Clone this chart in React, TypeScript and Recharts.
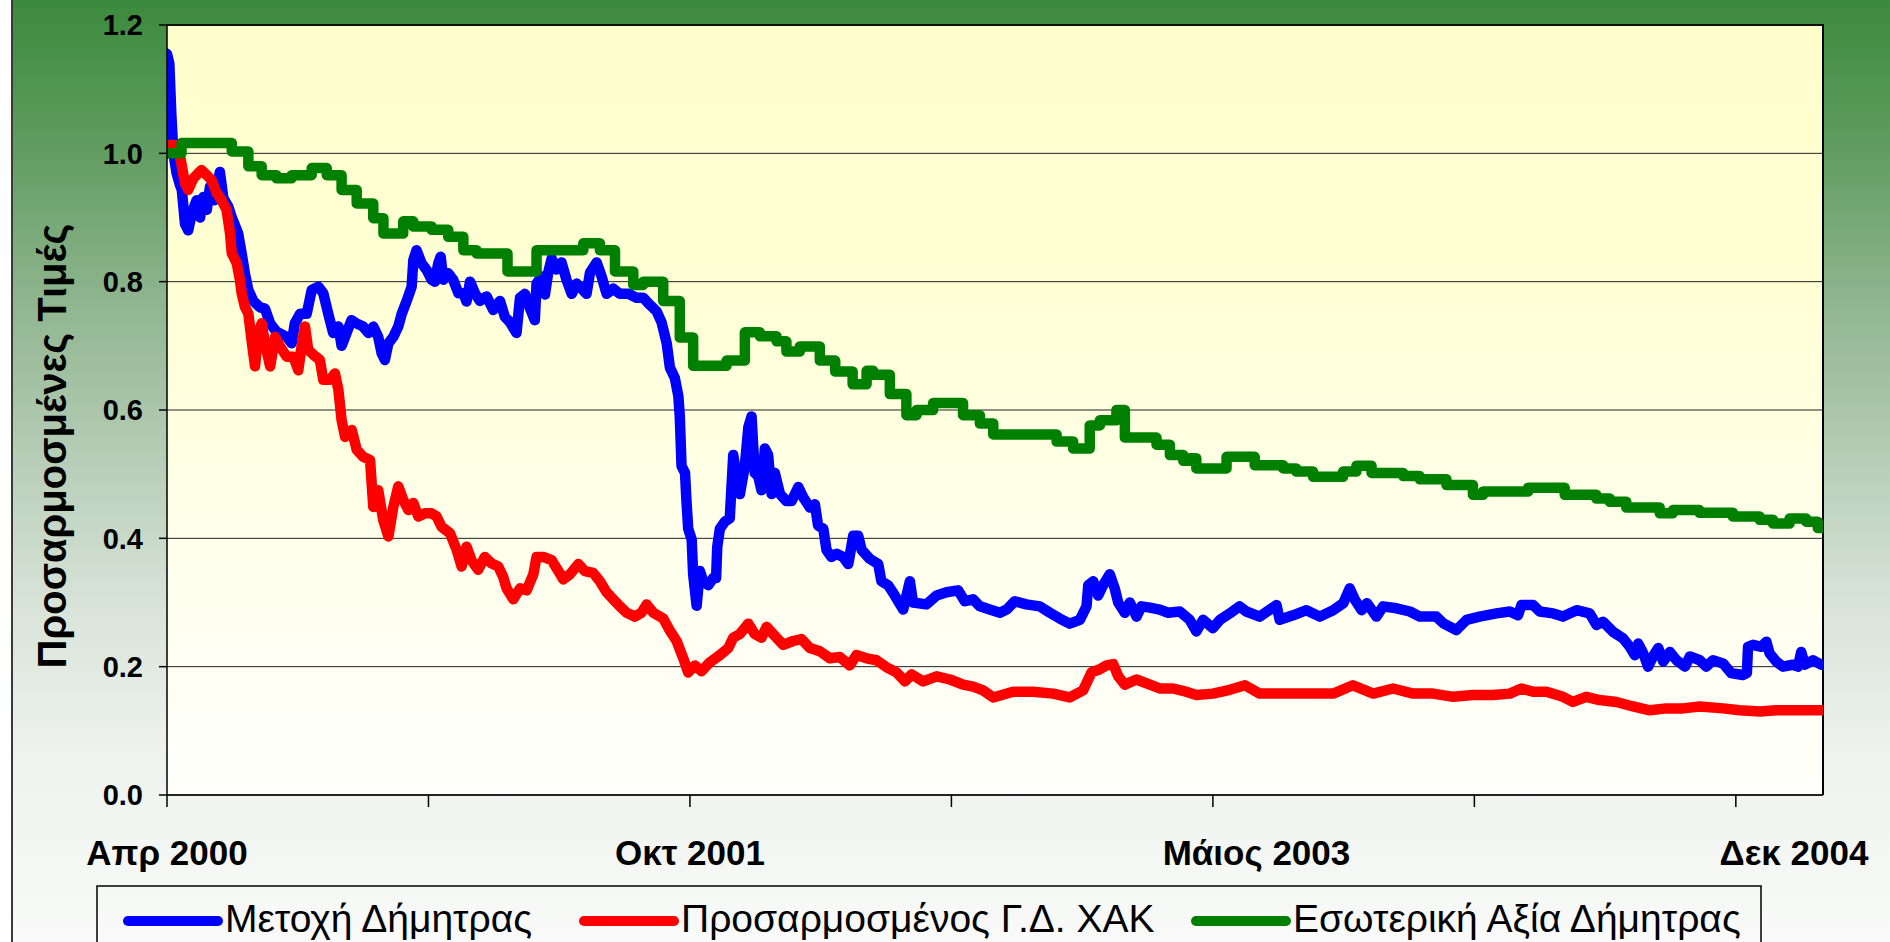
import React from 'react';
import { LineChart, Line, XAxis, YAxis, CartesianGrid } from 'recharts';

// x = months since April 2000, y = adjusted value
const stockPts: [number, number][] = [
  [0,1.155],[0.08,1.14],[0.15,1.06],[0.22,1.0],[0.33,0.969],[0.45,0.95],[0.51,0.943],[0.62,0.89],[0.73,0.88],[0.85,0.906],[1.02,0.927],[1.14,0.9],[1.25,0.932],[1.37,0.912],[1.48,0.948],[1.65,0.927],[1.82,0.971],[1.94,0.93],[2.11,0.917],[2.23,0.9],[2.45,0.875],[2.57,0.844],[2.68,0.813],[2.8,0.787],[2.97,0.77],[3.2,0.76],[3.37,0.758],[3.55,0.735],[3.77,0.722],[4.12,0.714],[4.29,0.704],[4.4,0.735],[4.58,0.75],[4.81,0.75],[4.98,0.787],[5.21,0.792],[5.38,0.782],[5.55,0.75],[5.72,0.72],[5.9,0.73],[6.01,0.7],[6.18,0.72],[6.35,0.74],[6.52,0.735],[6.75,0.73],[6.93,0.72],[7.1,0.73],[7.27,0.714],[7.39,0.688],[7.5,0.678],[7.62,0.704],[7.79,0.714],[7.96,0.73],[8.08,0.75],[8.25,0.77],[8.42,0.792],[8.48,0.834],[8.59,0.849],[8.76,0.829],[8.94,0.818],[9.11,0.803],[9.22,0.8],[9.34,0.829],[9.42,0.839],[9.51,0.803],[9.68,0.813],[9.85,0.803],[10.03,0.782],[10.2,0.782],[10.31,0.769],[10.43,0.8],[10.6,0.782],[10.77,0.77],[11.0,0.777],[11.23,0.756],[11.46,0.77],[11.63,0.745],[11.8,0.737],[12.03,0.72],[12.15,0.775],[12.32,0.781],[12.49,0.759],[12.66,0.74],[12.72,0.797],[12.89,0.808],[13.01,0.78],[13.12,0.814],[13.24,0.836],[13.41,0.819],[13.58,0.83],[13.75,0.803],[13.93,0.781],[14.1,0.797],[14.27,0.789],[14.44,0.781],[14.56,0.814],[14.79,0.83],[14.96,0.808],[15.13,0.781],[15.36,0.789],[15.59,0.781],[15.88,0.781],[16.16,0.775],[16.39,0.775],[16.62,0.764],[16.85,0.754],[17.02,0.737],[17.2,0.704],[17.31,0.666],[17.48,0.65],[17.6,0.622],[17.65,0.59],[17.71,0.513],[17.83,0.502],[17.88,0.458],[17.94,0.415],[18.06,0.398],[18.11,0.344],[18.23,0.295],[18.34,0.349],[18.46,0.333],[18.63,0.327],[18.8,0.338],[18.9,0.338],[18.94,0.387],[19.03,0.415],[19.2,0.426],[19.37,0.431],[19.49,0.53],[19.6,0.497],[19.72,0.469],[19.89,0.513],[20.01,0.573],[20.12,0.59],[20.23,0.502],[20.35,0.497],[20.46,0.475],[20.58,0.54],[20.69,0.53],[20.81,0.469],[20.92,0.502],[21.1,0.469],[21.32,0.458],[21.5,0.458],[21.73,0.48],[21.9,0.464],[22.13,0.448],[22.3,0.453],[22.41,0.42],[22.59,0.415],[22.7,0.382],[22.87,0.371],[23.05,0.376],[23.27,0.371],[23.45,0.36],[23.62,0.404],[23.79,0.404],[23.91,0.382],[24.19,0.368],[24.48,0.36],[24.59,0.333],[24.82,0.327],[25.05,0.311],[25.34,0.289],[25.57,0.333],[25.68,0.3],[26.14,0.297],[26.49,0.311],[26.83,0.316],[27.23,0.319],[27.46,0.302],[27.75,0.305],[27.98,0.294],[28.32,0.289],[28.67,0.284],[28.9,0.289],[29.18,0.302],[29.58,0.297],[30.04,0.294],[30.39,0.284],[30.73,0.275],[31.07,0.267],[31.42,0.273],[31.65,0.294],[31.71,0.327],[31.88,0.333],[32.05,0.311],[32.22,0.327],[32.45,0.344],[32.62,0.322],[32.74,0.3],[32.97,0.284],[33.14,0.3],[33.37,0.278],[33.54,0.294],[33.83,0.292],[34.17,0.289],[34.46,0.284],[34.86,0.286],[35.2,0.273],[35.43,0.255],[35.66,0.273],[36.0,0.26],[36.24,0.273],[36.58,0.283],[36.92,0.294],[37.15,0.286],[37.61,0.278],[38.19,0.296],[38.3,0.273],[38.76,0.28],[39.22,0.288],[39.68,0.278],[40.14,0.288],[40.49,0.299],[40.71,0.322],[40.89,0.304],[41.12,0.288],[41.3,0.299],[41.63,0.278],[41.86,0.294],[42.32,0.291],[42.78,0.286],[43.12,0.278],[43.69,0.278],[43.92,0.268],[44.38,0.257],[44.73,0.273],[45.18,0.278],[45.76,0.283],[46.22,0.286],[46.5,0.28],[46.62,0.296],[47.02,0.296],[47.25,0.286],[47.71,0.283],[48.05,0.278],[48.52,0.288],[48.97,0.283],[49.2,0.265],[49.43,0.27],[49.78,0.254],[50.12,0.244],[50.35,0.231],[50.52,0.218],[50.64,0.236],[50.81,0.221],[50.98,0.2],[51.15,0.216],[51.33,0.229],[51.5,0.208],[51.73,0.223],[51.96,0.21],[52.25,0.2],[52.42,0.216],[52.76,0.21],[52.98,0.2],[53.21,0.21],[53.56,0.205],[53.84,0.19],[54.24,0.187],[54.38,0.19],[54.42,0.231],[54.59,0.234],[54.88,0.231],[55.05,0.239],[55.16,0.221],[55.39,0.208],[55.62,0.2],[55.96,0.203],[56.14,0.2],[56.25,0.223],[56.37,0.203],[56.66,0.21],[56.94,0.203]
];

const indexPts: [number, number][] = [
  [0,1.0],[0.1,1.013],[0.27,1.013],[0.45,0.995],[0.62,0.953],[0.73,0.943],[0.91,0.961],[1.08,0.969],[1.19,0.974],[1.37,0.966],[1.54,0.958],[1.71,0.938],[1.88,0.927],[2.05,0.912],[2.17,0.875],[2.23,0.844],[2.4,0.829],[2.51,0.803],[2.57,0.782],[2.68,0.761],[2.8,0.75],[2.91,0.709],[3.03,0.668],[3.14,0.72],[3.26,0.735],[3.37,0.704],[3.55,0.668],[3.72,0.714],[3.89,0.699],[4.12,0.683],[4.35,0.683],[4.52,0.662],[4.63,0.699],[4.75,0.73],[4.86,0.694],[5.04,0.686],[5.26,0.678],[5.38,0.647],[5.61,0.647],[5.78,0.657],[5.9,0.631],[6.01,0.584],[6.13,0.558],[6.36,0.569],[6.53,0.538],[6.75,0.527],[6.99,0.522],[7.1,0.449],[7.27,0.475],[7.44,0.429],[7.62,0.403],[7.79,0.449],[7.96,0.481],[8.13,0.46],[8.31,0.444],[8.48,0.455],[8.65,0.434],[8.88,0.439],[9.11,0.439],[9.28,0.434],[9.45,0.418],[9.74,0.408],[9.97,0.382],[10.14,0.356],[10.31,0.387],[10.48,0.366],[10.71,0.351],[10.94,0.371],[11.17,0.361],[11.4,0.356],[11.57,0.34],[11.69,0.322],[11.92,0.305],[12.15,0.322],[12.38,0.319],[12.61,0.344],[12.72,0.371],[12.95,0.371],[13.24,0.366],[13.47,0.349],[13.64,0.336],[13.87,0.344],[14.16,0.36],[14.38,0.349],[14.67,0.346],[14.9,0.333],[15.13,0.316],[15.36,0.305],[15.59,0.294],[15.82,0.284],[16.11,0.278],[16.33,0.284],[16.51,0.297],[16.74,0.284],[17.08,0.275],[17.31,0.256],[17.54,0.24],[17.77,0.213],[17.94,0.191],[18.17,0.202],[18.4,0.193],[18.69,0.207],[19.03,0.218],[19.32,0.229],[19.49,0.245],[19.72,0.251],[20.01,0.267],[20.23,0.251],[20.46,0.245],[20.64,0.262],[20.92,0.248],[21.21,0.234],[21.55,0.24],[21.84,0.243],[22.13,0.229],[22.47,0.224],[22.82,0.213],[23.16,0.215],[23.5,0.202],[23.73,0.218],[24.08,0.213],[24.42,0.21],[24.77,0.199],[25.11,0.191],[25.4,0.177],[25.63,0.188],[26.03,0.177],[26.49,0.185],[26.95,0.18],[27.4,0.172],[27.75,0.169],[28.09,0.163],[28.44,0.152],[29.12,0.161],[29.81,0.161],[30.5,0.158],[31.07,0.152],[31.53,0.163],[31.82,0.191],[32.11,0.196],[32.34,0.202],[32.57,0.204],[32.74,0.185],[32.97,0.172],[33.37,0.18],[33.83,0.172],[34.17,0.166],[34.63,0.166],[35.0,0.162],[35.43,0.156],[36.0,0.158],[36.58,0.164],[37.1,0.171],[37.61,0.158],[38.3,0.158],[39.45,0.158],[40.14,0.158],[40.82,0.171],[41.52,0.158],[42.2,0.166],[42.89,0.158],[43.58,0.158],[44.27,0.153],[44.95,0.156],[45.64,0.156],[46.22,0.158],[46.62,0.166],[47.02,0.161],[47.48,0.161],[48.05,0.153],[48.39,0.145],[48.85,0.153],[49.31,0.148],[49.89,0.145],[50.46,0.138],[51.04,0.132],[51.61,0.135],[52.18,0.135],[52.76,0.138],[53.56,0.135],[54.13,0.132],[54.82,0.13],[55.39,0.132],[56.2,0.132],[56.94,0.132]
];

const navSteps: [number, number][] = [
  [0,1.0],[0.5,1.016],[2.23,1.003],[2.8,0.98],[3.26,0.966],[3.77,0.961],[4.29,0.966],[4.98,0.977],[5.5,0.966],[6.01,0.943],[6.53,0.922],[7.1,0.899],[7.45,0.875],[8.13,0.894],[8.48,0.886],[9.11,0.881],[9.68,0.87],[10.2,0.849],[10.66,0.844],[11.72,0.816],[12.72,0.849],[14.33,0.86],[14.9,0.849],[15.42,0.816],[16.05,0.795],[16.39,0.8],[17.08,0.77],[17.65,0.713],[18.11,0.669],[19.26,0.677],[19.89,0.721],[20.41,0.715],[20.98,0.707],[21.32,0.691],[21.78,0.699],[22.47,0.677],[23.0,0.66],[23.6,0.64],[24.08,0.661],[24.31,0.655],[24.88,0.625],[25.45,0.592],[25.8,0.6],[26.37,0.611],[27.4,0.592],[27.98,0.579],[28.44,0.562],[30.62,0.551],[31.19,0.54],[31.76,0.576],[32.11,0.584],[32.68,0.6],[32.97,0.557],[34.06,0.546],[34.52,0.53],[34.98,0.521],[35.2,0.525],[35.43,0.509],[36.47,0.527],[37.44,0.514],[38.42,0.509],[38.87,0.504],[39.45,0.496],[40.48,0.504],[40.94,0.513],[41.46,0.502],[42.55,0.497],[43.12,0.492],[44.04,0.483],[44.95,0.468],[45.3,0.473],[46.85,0.479],[48.11,0.468],[49.2,0.462],[49.66,0.457],[50.23,0.448],[51.38,0.439],[51.83,0.444],[52.75,0.44],[53.9,0.434],[54.82,0.429],[55.28,0.423],[55.85,0.431],[56.42,0.426],[56.82,0.416],[57,0.416]
];

const seriesNames = ['Μετοχή Δήμητρας', 'Προσαρμοσμένος Γ.Δ. ΧΑΚ', 'Εσωτερική Αξία Δήμητρας'];
const seriesColors = ['#0000FF', '#FF0000', '#008000'];
const yTicks = [0, 0.2, 0.4, 0.6, 0.8, 1.0, 1.2];
const xTickMarks = [0, 9, 18, 27, 36, 45, 54];
const xLabelPos = [0, 18, 37.5, 56];
const xLabelText = ['Απρ 2000', 'Οκτ 2001', 'Μάιος 2003', 'Δεκ 2004'];
const yTitle = 'Προσαρμοσμένες Τιμές';

const FONT = "'Liberation Sans', Arial, sans-serif";
const toRows = (pts: [number, number][]) => pts.map(([t, v]) => ({ t, v }));
const allXTicks = Array.from(new Set([...xTickMarks, ...xLabelPos])).sort((a, b) => a - b);

const XTick = (props: any) => {
  const { x, y, payload } = props;
  const v = payload.value;
  const isMark = xTickMarks.includes(v);
  const li = xLabelPos.indexOf(v);
  return (
    <g>
      {isMark && <line x1={x} x2={x} y1={y} y2={y + 12} stroke="#000" strokeWidth={1.5} />}
      {li >= 0 && (
        <text x={x} y={y + 70} textAnchor="middle" fontSize={35} fontWeight="bold" fontFamily={FONT} fill="#000">
          {xLabelText[li]}
        </text>
      )}
    </g>
  );
};

const legendLineX = [128, 584, 1196];

export default function App() {
  const datasets = [toRows(stockPts), toRows(indexPts), toRows(navSteps)];
  return (
    <div style={{ position: 'absolute', left: 0, top: 0, width: 1890, height: 942, overflow: 'hidden', background: '#fff', fontFamily: FONT }}>
      <div style={{ position: 'absolute', left: 11, top: 0, width: 1879, height: 942, boxSizing: 'border-box', borderLeft: '2px solid #3a3a3a',
        background: 'linear-gradient(to bottom, #3b8a3d 0%, #619d61 16%, #8fb58f 32%, #b5ccb5 48%, #d8e3d8 64%, #eef2ee 80%, #f9faf9 100%)' }} />
      <div style={{ position: 'absolute', left: 167, top: 24, width: 1657, height: 771, boxSizing: 'border-box', borderTop: '2px solid #000', borderRight: '2px solid #000',
        background: 'linear-gradient(to bottom, #ffffcc 0%, #ffffd6 35%, #fffff0 75%, #fffffb 100%)' }} />
      <div style={{ position: 'absolute', left: 0, top: 0 }}>
        <LineChart width={1890} height={942} margin={{ top: 25, right: 67, left: 0, bottom: 0 }}>
          <CartesianGrid vertical={false} stroke="#222" strokeWidth={1} />
          <XAxis type="number" dataKey="t" domain={[0, 57]} allowDataOverflow ticks={allXTicks} interval={0}
            height={147} tickSize={0} tickMargin={0} tickLine={false} axisLine={{ stroke: '#000', strokeWidth: 1.5 }} tick={<XTick />} />
          <YAxis type="number" domain={[0, 1.2]} ticks={yTicks} width={167} tickSize={8} tickMargin={16} interval={0}
            tickFormatter={(v: number) => v.toFixed(1)} axisLine={{ stroke: '#000', strokeWidth: 1.5 }} tickLine={{ stroke: '#000', strokeWidth: 1.5 }}
            tick={{ fontSize: 29, fontWeight: 'bold', fill: '#000', fontFamily: FONT }} />
          {datasets.map((d, i) => (
            <Line key={i} data={d} dataKey="v" name={seriesNames[i]} type={i === 2 ? 'stepAfter' : 'linear'} stroke={seriesColors[i]}
              strokeWidth={10.5} dot={false} isAnimationActive={false} strokeLinejoin="round" strokeLinecap="round" />
          ))}
        </LineChart>
      </div>
      <svg width={1890} height={942} style={{ position: 'absolute', left: 0, top: 0, pointerEvents: 'none' }}>
        <text x={52} y={446} transform="rotate(-90 52 446)" textAnchor="middle" dominantBaseline="central" fontSize={40} fontWeight="bold" fontFamily={FONT} fill="#000">
          {yTitle}
        </text>
        <rect x={97} y={886} width={1664} height={90} fill="none" stroke="#000" strokeWidth={1.5} />
        {seriesNames.map((n, i) => (
          <g key={n}>
            <line x1={legendLineX[i]} x2={legendLineX[i] + 90} y1={921} y2={921} stroke={seriesColors[i]} strokeWidth={10} strokeLinecap="round" />
            <text x={legendLineX[i] + 97} y={932} fontSize={39} fontFamily={FONT} fill="#000">{n}</text>
          </g>
        ))}
      </svg>
    </div>
  );
}
